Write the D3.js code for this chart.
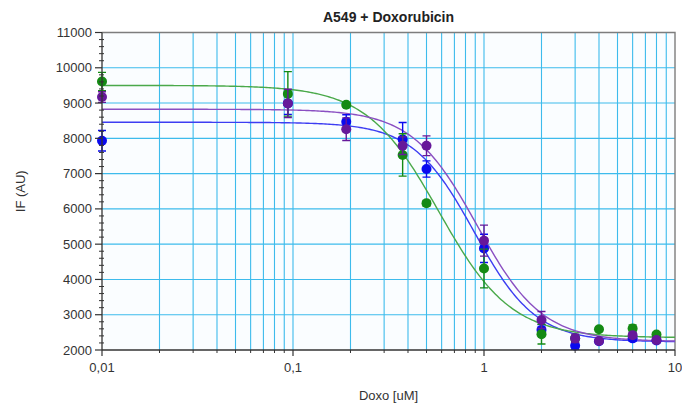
<!DOCTYPE html>
<html>
<head>
<meta charset="utf-8">
<script src="https://cdn.jsdelivr.net/npm/d3@7/dist/d3.min.js"></script>
<style>
  html, body { margin: 0; padding: 0; background: #ffffff; }
  svg { display: block; font-family: "Liberation Sans", Arial, sans-serif; }
</style>
</head>
<body>
<svg id="chart" width="682" height="407"></svg>
<script>
// Doxorubicin concentrations (uM)
const doses = [0.01, 0.094, 0.19, 0.375, 0.5, 1, 2, 3, 4, 6, 8];

// Mean fluorescence (AU) and error per replicate set
const greenMean   = [9610, 9260, 8950, 7530, 6160, 4310, 2450, 2330, 2590, 2610, 2440];
const greenErr    = [260, 630, 60, 600, 80, 550, 280, 80, 60, 100, 60];
const blueMean    = [7930, 8990, 8470, 7970, 7130, 4880, 2570, 2120, 2250, 2330, 2270];
const blueErr     = [290, 310, 200, 480, 230, 400, 150, 100, 60, 80, 60];
const purpleMean  = [9170, 8990, 8260, 7790, 7790, 5100, 2850, 2330, 2255, 2420, 2280];
const purpleErr   = [150, 400, 320, 250, 280, 440, 240, 120, 60, 80, 60];

// Four-parameter logistic fits: [top, bottom, IC50, Hill slope]
const greenFit  = [9500, 2350, 0.58, 2.3];
const blueFit   = [8455, 2230, 0.89, 2.7];
const purpleFit = [8824, 2240, 0.92, 2.55];

// Axis ticks
const xTickValues = [0.01, 0.1, 1, 10];
const xTickLabels = ["0,01", "0,1", "1", "10"];
const yTickValues = [2000, 3000, 4000, 5000, 6000, 7000, 8000, 9000, 10000, 11000];

const series = [
  { mean: blueMean,   err: blueErr,   fit: blueFit,   dot: "#0a0aef", line: "#3d3df2" },
  { mean: greenMean,  err: greenErr,  fit: greenFit,  dot: "#148a14", line: "#4aa94a" },
  { mean: purpleMean, err: purpleErr, fit: purpleFit, dot: "#66189a", line: "#8a4fc2" }
];

const svg = d3.select("#chart");
const plot = { left: 102, right: 675, top: 32.5, bottom: 350 };

const x = d3.scaleLog().domain([0.01, 10]).range([plot.left, plot.right]);
const y = d3.scaleLinear().domain([2000, 11000]).range([plot.bottom, plot.top]);

// plot panel
svg.append("rect")
  .attr("x", plot.left).attr("y", plot.top)
  .attr("width", plot.right - plot.left).attr("height", plot.bottom - plot.top)
  .attr("fill", "#fafdff");

// grid lines: every minor decade step, and every 1000 AU
const xGrid = [];
for (let d = 0.01; d < 10; d *= 10) {
  for (let k = 1; k < 10; k++) {
    const v = d * k;
    if (v > 0.01 && v < 10) xGrid.push(v);
  }
}
svg.append("g").selectAll("line").data(xGrid).join("line")
  .attr("x1", d => x(d)).attr("x2", d => x(d))
  .attr("y1", plot.top).attr("y2", plot.bottom)
  .attr("stroke", "#3dbbec").attr("stroke-width", 1.1);

svg.append("g").selectAll("line").data(yTickValues.filter(v => v > 2000 && v < 11000)).join("line")
  .attr("x1", plot.left).attr("x2", plot.right)
  .attr("y1", d => y(d)).attr("y2", d => y(d))
  .attr("stroke", "#3dbbec").attr("stroke-width", 1.1);

// frame (top and right)
svg.append("path")
  .attr("d", `M${plot.left},${plot.top}H${plot.right}V${plot.bottom}`)
  .attr("fill", "none").attr("stroke", "#7d7d7d").attr("stroke-width", 1.4);

// fitted curves
const curveX = d3.range(0, 301).map(i => Math.pow(10, -2 + 3 * i / 300));
const logistic = (p, c) => p[1] + (p[0] - p[1]) / (1 + Math.pow(c / p[2], p[3]));
const line = d3.line().x(d => x(d[0])).y(d => y(d[1]));
series.forEach(s => {
  svg.append("path")
    .datum(curveX.map(c => [c, logistic(s.fit, c)]))
    .attr("d", line)
    .attr("fill", "none")
    .attr("stroke", s.line)
    .attr("stroke-width", 1.4);
});

// error bars and points
series.forEach(s => {
  const g = svg.append("g");
  const rows = doses.map((d, i) => ({ d, m: s.mean[i], e: s.err[i] }));
  g.selectAll(".eb").data(rows).join("path")
    .attr("d", r => {
      const cx = x(r.d), y1 = y(r.m + r.e), y2 = y(r.m - r.e);
      return `M${cx},${y1}V${y2}M${cx - 4},${y1}H${cx + 4}M${cx - 4},${y2}H${cx + 4}`;
    })
    .attr("fill", "none").attr("stroke", s.dot).attr("stroke-width", 1.4);
  g.selectAll("circle").data(rows).join("circle")
    .attr("cx", r => x(r.d)).attr("cy", r => y(r.m)).attr("r", 5)
    .attr("fill", s.dot);
});

// y axis
const yAxis = svg.append("g");
yAxis.append("line")
  .attr("x1", plot.left).attr("x2", plot.left)
  .attr("y1", plot.top).attr("y2", plot.bottom)
  .attr("stroke", "#333").attr("stroke-width", 1.3);
const yMinor = d3.range(2000, 11001, 200).filter(v => v % 1000 !== 0);
yAxis.selectAll(".ym").data(yMinor).join("line")
  .attr("x1", plot.left - 3).attr("x2", plot.left + 2)
  .attr("y1", d => y(d)).attr("y2", d => y(d))
  .attr("stroke", "#333").attr("stroke-width", 1);
yAxis.selectAll(".yM").data(yTickValues).join("line")
  .attr("x1", plot.left - 7).attr("x2", plot.left)
  .attr("y1", d => y(d)).attr("y2", d => y(d))
  .attr("stroke", "#333").attr("stroke-width", 1.2);
yAxis.selectAll("text").data(yTickValues).join("text")
  .attr("x", plot.left - 10).attr("y", d => y(d)).attr("dy", "0.35em")
  .attr("text-anchor", "end").attr("font-size", 13).attr("fill", "#333")
  .text(d => d);

// x axis
const xAxis = svg.append("g");
xAxis.append("line")
  .attr("x1", plot.left).attr("x2", plot.right)
  .attr("y1", plot.bottom).attr("y2", plot.bottom)
  .attr("stroke", "#333").attr("stroke-width", 1.3);
xAxis.selectAll(".xm").data(xGrid.filter(v => !xTickValues.includes(v))).join("line")
  .attr("x1", d => x(d)).attr("x2", d => x(d))
  .attr("y1", plot.bottom).attr("y2", plot.bottom + 3)
  .attr("stroke", "#333").attr("stroke-width", 1);
xAxis.selectAll(".xM").data(xTickValues).join("line")
  .attr("x1", d => x(d)).attr("x2", d => x(d))
  .attr("y1", plot.bottom).attr("y2", plot.bottom + 6)
  .attr("stroke", "#333").attr("stroke-width", 1.2);
xAxis.selectAll("text").data(xTickValues).join("text")
  .attr("x", d => x(d)).attr("y", plot.bottom + 22)
  .attr("text-anchor", "middle").attr("font-size", 13).attr("fill", "#333")
  .text((d, i) => xTickLabels[i]);

// titles
svg.append("text")
  .attr("x", (plot.left + plot.right) / 2).attr("y", 22)
  .attr("text-anchor", "middle").attr("font-size", 14).attr("font-weight", "bold")
  .attr("fill", "#222").text("A549 + Doxorubicin");
svg.append("text")
  .attr("x", (plot.left + plot.right) / 2).attr("y", 400)
  .attr("text-anchor", "middle").attr("font-size", 13).attr("fill", "#333")
  .text("Doxo [uM]");
svg.append("text")
  .attr("transform", `translate(25,${(plot.top + plot.bottom) / 2}) rotate(-90)`)
  .attr("text-anchor", "middle").attr("font-size", 13).attr("fill", "#333")
  .text("IF (AU)");
</script>
</body>
</html>
